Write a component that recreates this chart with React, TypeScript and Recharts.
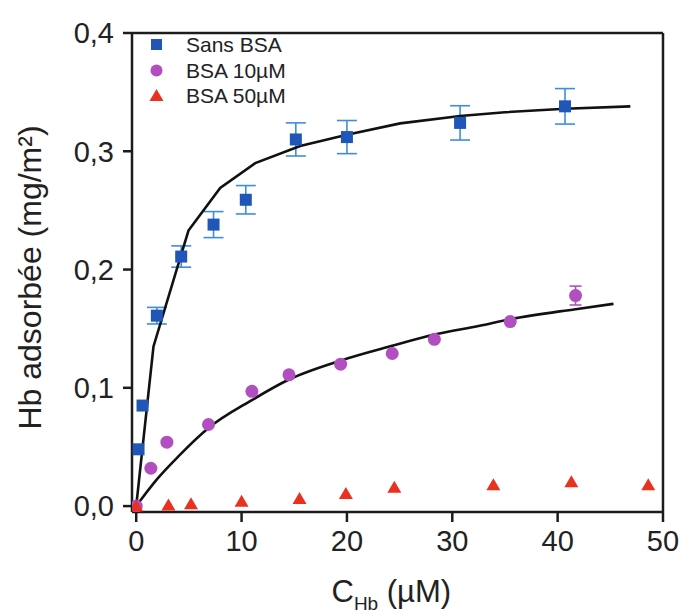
import React from 'react'
import { ComposedChart, Scatter, Line, XAxis, YAxis, ErrorBar, ReferenceLine } from 'recharts'

// Sans BSA (blue squares, with error bars)
const sansX = [0.22, 0.6, 1.96, 4.27, 7.34, 10.4, 15.15, 20.0, 30.74, 40.7]
const sansY = [0.048, 0.085, 0.161, 0.211, 0.238, 0.259, 0.31, 0.312, 0.324, 0.338]
const sansErr = [0, 0, 0.007, 0.009, 0.011, 0.012, 0.014, 0.014, 0.0145, 0.015]

// BSA 10µM (purple circles)
const bsa10X = [0, 1.39, 2.91, 6.86, 10.98, 14.5, 19.4, 24.3, 28.3, 35.5, 41.7]
const bsa10Y = [0, 0.032, 0.054, 0.069, 0.097, 0.111, 0.12, 0.129, 0.141, 0.156, 0.178]
const bsa10Err = [0, 0, 0, 0, 0, 0, 0, 0, 0, 0, 0.008]

// BSA 50µM (red triangles)
const bsa50X = [0, 3.06, 5.2, 10.0, 15.5, 19.9, 24.5, 33.9, 41.3, 48.6]
const bsa50Y = [0, 0.001, 0.002, 0.004, 0.0065, 0.0107, 0.016, 0.018, 0.0206, 0.018]

// fitted curves
const fitSansX = [0, 1.64, 4.96, 7.97, 11.3, 15.56, 20, 25.05, 30.74, 35, 40.7, 46.9]
const fitSansY = [0, 0.135, 0.233, 0.269, 0.29, 0.3045, 0.314, 0.3236, 0.3298, 0.333, 0.336, 0.338]
const fit10X = [0, 2, 4, 6.86, 10.98, 14.5, 19.4, 24.3, 28.3, 32.6, 35.5, 41.7, 45.3]
const fit10Y = [0, 0.023, 0.042, 0.066, 0.0896, 0.107, 0.123, 0.1355, 0.145, 0.1525, 0.158, 0.1665, 0.171]

const xTicks = [0, 10, 20, 30, 40, 50]
const yTicks = [0, 0.1, 0.2, 0.3, 0.4]

const legendItems = ['Sans BSA', 'BSA 10µM', 'BSA 50µM']

const BLUE = '#1f56b8'
const BLUE_ERR = '#3d8ede'
const PURPLE = '#b24fc0'
const RED = '#e8321f'
const INK = '#1c1c1c'
const FONT = '"Liberation Sans", Arial, sans-serif'

const toPoints = (xs: number[], ys: number[], errs?: number[]) =>
  xs.map((x, i) => ({ x, y: ys[i], err: errs ? errs[i] : 0 }))

const sansData = toPoints(sansX, sansY, sansErr)
const bsa10Data = toPoints(bsa10X, bsa10Y, bsa10Err)
const bsa50Data = toPoints(bsa50X, bsa50Y)
const fitSansData = toPoints(fitSansX, fitSansY)
const fit10Data = toPoints(fit10X, fit10Y)

const Square = (props: any) => {
  const { cx, cy } = props
  if (cx == null || cy == null) return null
  return <rect x={cx - 6} y={cy - 6} width={12} height={12} fill={BLUE} />
}

const Circle = (props: any) => {
  const { cx, cy } = props
  if (cx == null || cy == null) return null
  return <circle cx={cx} cy={cy} r={6.5} fill={PURPLE} />
}

const Triangle = (props: any) => {
  const { cx, cy } = props
  if (cx == null || cy == null) return null
  return <polygon points={`${cx},${cy - 6.5} ${cx + 7},${cy + 5.5} ${cx - 7},${cy + 5.5}`} fill={RED} />
}

const fmtY = (v: number) => v.toFixed(1).replace('.', ',')

function LegendBox() {
  const markers = [
    <rect key="s" x={2} y={2} width={11} height={11} fill={BLUE} />,
    <circle key="c" cx={7.5} cy={7.5} r={6} fill={PURPLE} />,
    <polygon key="t" points="7.5,1 14.5,13 0.5,13" fill={RED} />,
  ]
  return (
    <div
      style={{
        position: 'absolute',
        left: 149,
        top: 32,
        fontFamily: FONT,
        fontSize: 21,
        color: '#222',
        lineHeight: '25.5px',
      }}
    >
      {legendItems.map((name, i) => (
        <div key={name} style={{ display: 'flex', alignItems: 'center' }}>
          <svg width={15} height={15} style={{ marginRight: 22 }}>
            {markers[i]}
          </svg>
          <span>{name}</span>
        </div>
      ))}
    </div>
  )
}

export default function App() {
  return (
    <div style={{ position: 'absolute', left: 0, top: 0, width: 682, height: 615, background: '#fff' }}>
      <ComposedChart width={682} height={615} margin={{ top: 33, right: 19, bottom: 0, left: 0 }}>
        <XAxis
          dataKey="x"
          type="number"
          domain={[-0.4, 50]}
          allowDataOverflow
          ticks={xTicks}
          height={103}
          tickSize={10}
          tickMargin={8}
          stroke={INK}
          strokeWidth={2.5}
          tick={{ fill: '#222', fontSize: 29, fontFamily: FONT }}
          label={{
            content: (props: any) => {
              const vb = props.viewBox || { x: 132, y: 512, width: 531 }
              const cx = vb.x + vb.width / 2
              return (
                <text x={cx - 66} y={vb.y + 90} fill="#222" fontFamily={FONT} fontSize={31}>
                  C
                  <tspan fontSize={19} dy={8}>Hb</tspan>
                  <tspan dy={-8}> (µM)</tspan>
                </text>
              )
            },
          }}
        />
        <YAxis
          dataKey="y"
          type="number"
          domain={[-0.005, 0.4]}
          allowDataOverflow
          ticks={yTicks}
          width={132}
          tickSize={9}
          tickMargin={9}
          tickFormatter={fmtY}
          stroke={INK}
          strokeWidth={2.5}
          tick={{ fill: '#222', fontSize: 29, fontFamily: FONT }}
          label={{
            content: (props: any) => {
              const vb = props.viewBox || { x: 0, y: 33, height: 479 }
              const cx = vb.x + 30
              const cy = vb.y + vb.height / 2 + 5
              return (
                <text
                  x={cx}
                  y={cy}
                  transform={`rotate(-90 ${cx} ${cy})`}
                  textAnchor="middle"
                  dominantBaseline="central"
                  fill="#222"
                  fontFamily={FONT}
                  fontSize={32}
                >
                  Hb adsorbée (mg/m²)
                </text>
              )
            },
          }}
        />
        <ReferenceLine y={0.4} stroke={INK} strokeWidth={2.5} />
        <ReferenceLine x={50} stroke={INK} strokeWidth={2.5} />
        <Scatter name="Sans BSA" data={sansData} dataKey="y" shape={Square} isAnimationActive={false}>
          <ErrorBar dataKey="err" direction="y" width={10} stroke={BLUE_ERR} strokeWidth={1.6} />
        </Scatter>
        <Scatter name="BSA 10µM" data={bsa10Data} dataKey="y" shape={Circle} isAnimationActive={false}>
          <ErrorBar dataKey="err" direction="y" width={6} stroke={PURPLE} strokeWidth={1.6} />
        </Scatter>
        <Scatter name="BSA 50µM" data={bsa50Data} dataKey="y" shape={Triangle} isAnimationActive={false} />
        <Line
          data={fitSansData}
          dataKey="y"
          type="linear"
          stroke="#111"
          strokeWidth={2.6}
          dot={false}
          activeDot={false}
          legendType="none"
          isAnimationActive={false}
        />
        <Line
          data={fit10Data}
          dataKey="y"
          type="monotone"
          stroke="#111"
          strokeWidth={2.6}
          dot={false}
          activeDot={false}
          legendType="none"
          isAnimationActive={false}
        />
      </ComposedChart>
      <LegendBox />
    </div>
  )
}
